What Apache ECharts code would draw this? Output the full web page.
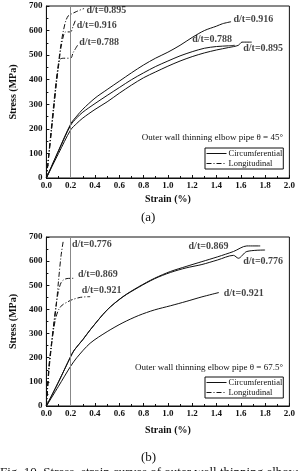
<!DOCTYPE html>
<html>
<head>
<meta charset="utf-8">
<script src="https://cdn.jsdelivr.net/npm/echarts@6/dist/echarts.min.js"></script>
<style>
html, body { margin: 0; padding: 0; background: #fff; }
#chart { width: 298px; height: 471px; }
</style>
</head>
<body>
<div id="chart"></div>
<script>
// theta = 45 deg (a)
var circ45_0916 = [[0,0],[0.1,112],[0.2,220],[0.25,252],[0.3,280],[0.4,325],[0.5,360],[0.6,394],[0.7,428],[0.8,460],[0.9,488],[1.0,512],[1.1,540],[1.2,572],[1.3,600],[1.4,618],[1.45,628],[1.52,636]];
var circ45_0788 = [[0,0],[0.1,110],[0.2,215],[0.25,245],[0.3,268],[0.4,303],[0.5,336],[0.6,368],[0.7,400],[0.8,428],[0.9,454],[1.0,476],[1.1,497],[1.2,514],[1.3,528],[1.4,535],[1.5,538],[1.55,540]];
var circ45_0895 = [[0,0],[0.1,100],[0.2,196],[0.25,222],[0.3,244],[0.4,279],[0.5,310],[0.6,345],[0.7,378],[0.8,408],[0.9,432],[1.0,455],[1.1,476],[1.2,494],[1.3,509],[1.4,521],[1.5,531],[1.58,540],[1.61,553],[1.69,553]];
var long45_0895 = [[0,0],[0.02,100],[0.04,200],[0.06,300],[0.08,395],[0.1,470],[0.12,545],[0.14,600],[0.16,640],[0.18,660],[0.2,666],[0.25,678],[0.31,690]];
var long45_0916 = [[0,0],[0.02,95],[0.04,190],[0.06,285],[0.08,380],[0.1,460],[0.12,530],[0.14,578],[0.155,594],[0.2,595],[0.22,618],[0.24,643]];
var long45_0788 = [[0,0],[0.02,90],[0.04,185],[0.06,280],[0.08,375],[0.1,455],[0.11,482],[0.13,487],[0.2,488],[0.22,510],[0.26,543]];
var labels45 = [[0.33,684,'d/t=0.895'],[0.25,619,'d/t=0.916'],[0.27,550,'d/t=0.788'],[1.54,647,'d/t=0.916'],[1.20,562,'d/t=0.788'],[1.62,526,'d/t=0.895']];

// theta = 67.5 deg (b)
var circ67_0869 = [[0,0],[0.1,100],[0.2,205],[0.23,232],[0.3,275],[0.36,315],[0.5,398],[0.63,453],[0.76,494],[0.89,529],[1.02,557],[1.15,578],[1.28,598],[1.41,618],[1.54,640],[1.65,663],[1.76,663]];
var circ67_0776 = [[0,0],[0.1,100],[0.2,205],[0.23,232],[0.3,275],[0.36,315],[0.5,398],[0.63,452],[0.76,492],[0.89,527],[1.02,553],[1.15,572],[1.28,586],[1.41,605],[1.54,624],[1.58,612],[1.65,640],[1.8,646]];
var circ67_0921 = [[0,0],[0.1,82],[0.2,165],[0.25,200],[0.36,260],[0.5,308],[0.63,345],[0.76,375],[0.89,398],[1.02,415],[1.15,433],[1.28,452],[1.42,470]];
var long67_0776 = [[0,0],[0.02,160],[0.04,250],[0.06,330],[0.08,410],[0.1,520],[0.12,620],[0.14,688]];
var long67_0869 = [[0,0],[0.02,150],[0.04,250],[0.06,340],[0.08,420],[0.1,478],[0.12,510],[0.14,522],[0.17,528],[0.23,529]];
var long67_0921 = [[0,0],[0.02,140],[0.04,240],[0.06,320],[0.08,370],[0.1,398],[0.13,418],[0.17,430],[0.21,440],[0.28,450],[0.36,453]];
var labels67 = [[0.21,671,'d/t=0.776'],[0.26,547,'d/t=0.869'],[0.29,480,'d/t=0.921'],[1.17,659,'d/t=0.869'],[1.62,597,'d/t=0.776'],[1.46,468,'d/t=0.921']];

var serif = '"Liberation Serif", "DejaVu Serif", serif';
var dashDot = [5, 2, 1, 2];

function lineSeries(name, data, gi, dashed){
    return {
        name: name,
        type: 'line',
        xAxisIndex: gi,
        yAxisIndex: gi,
        data: data,
        symbol: 'none',
        smooth: 0.3,
        color: '#111',
        lineStyle: { color: '#111', width: 1, type: dashed ? dashDot : 'solid' }
    };
}

function labelSeries(data, gi){
    return {
        name: 'labels' + gi,
        type: 'scatter',
        xAxisIndex: gi,
        yAxisIndex: gi,
        data: data,
        symbolSize: 0,
        silent: true,
        label: {
            show: true,
            position: 'right',
            distance: 0,
            formatter: function(p){ return p.value[2]; },
            fontFamily: serif,
            fontWeight: 'bold',
            fontSize: 10,
            color: '#111'
        }
    };
}

function xAxisCfg(gi, gap){
    return {
        gridIndex: gi,
        type: 'value',
        min: 0, max: 2, interval: 0.2,
        name: 'Strain (%)',
        nameLocation: 'middle',
        nameGap: gap,
        nameTextStyle: { fontFamily: serif, fontWeight: 'bold', fontSize: 10, color: '#111' },
        axisLine: { lineStyle: { color: '#111' } },
        axisTick: { inside: true, length: 3, lineStyle: { color: '#111' } },
        minorTick: { show: true, splitNumber: 2, length: 2, lineStyle: { color: '#111' } },
        splitLine: { show: false },
        axisLabel: {
            fontFamily: serif, fontWeight: 'bold', fontSize: 9, color: '#111', margin: 3,
            formatter: function(v){ return v.toFixed(1); }
        }
    };
}

function yAxisCfg(gi){
    return {
        gridIndex: gi,
        type: 'value',
        min: 0, max: 700, interval: 100,
        name: 'Stress (MPa)',
        nameLocation: 'middle',
        nameGap: 23,
        nameTextStyle: { fontFamily: serif, fontWeight: 'bold', fontSize: 10, color: '#111' },
        axisLine: { lineStyle: { color: '#111' } },
        axisTick: { inside: true, length: 3, lineStyle: { color: '#111' } },
        minorTick: { show: true, splitNumber: 2, length: 2, lineStyle: { color: '#111' } },
        splitLine: { show: false },
        axisLabel: { fontFamily: serif, fontWeight: 'bold', fontSize: 9, color: '#111', margin: 4 }
    };
}

function legendCfg(top){
    return {
        data: ['Circumferential', 'Longitudinal'],
        orient: 'vertical',
        left: 205,
        top: top,
        padding: [1, 1, 1, 1],
        itemGap: 1,
        itemWidth: 20,
        itemHeight: 8,
        borderColor: '#111',
        borderWidth: 1,
        borderRadius: 0,
        selectedMode: false,
        itemStyle: { opacity: 0 },
        lineStyle: { color: '#111', width: 1 },
        textStyle: { fontFamily: serif, fontSize: 8.5, color: '#111', padding: [0, 0, 0, -3] }
    };
}

var vline = {
    symbol: 'none', silent: true,
    label: { show: false },
    lineStyle: { color: '#888', width: 1, type: 'solid' },
    data: [{ xAxis: 0.2 }]
};

var series = [
    lineSeries('Circumferential', circ45_0916, 0, false),
    lineSeries('Circumferential', circ45_0788, 0, false),
    lineSeries('Circumferential', circ45_0895, 0, false),
    lineSeries('Longitudinal', long45_0895, 0, true),
    lineSeries('Longitudinal', long45_0916, 0, true),
    lineSeries('Longitudinal', long45_0788, 0, true),
    labelSeries(labels45, 0),
    lineSeries('Circumferential', circ67_0869, 1, false),
    lineSeries('Circumferential', circ67_0776, 1, false),
    lineSeries('Circumferential', circ67_0921, 1, false),
    lineSeries('Longitudinal', long67_0776, 1, true),
    lineSeries('Longitudinal', long67_0869, 1, true),
    lineSeries('Longitudinal', long67_0921, 1, true),
    labelSeries(labels67, 1)
];
series[0].markLine = vline;
series[7].markLine = vline;

var option = {
    backgroundColor: '#fff',
    animation: false,
    grid: [
        { left: 36, top: 6, width: 254, height: 172, show: true, borderColor: '#111', borderWidth: 1 },
        { left: 37, top: 237, width: 254, height: 169, show: true, borderColor: '#111', borderWidth: 1 }
    ],
    xAxis: [xAxisCfg(0, 16), xAxisCfg(1, 19)],
    yAxis: [yAxisCfg(0), yAxisCfg(1)],
    legend: [legendCfg(148), legendCfg(377)],
    graphic: [
        { type: 'text', right: 15, top: 133, style: { text: 'Outer wall thinning elbow pipe \u03b8 = 45\u00b0', font: '9px ' + serif, fill: '#111' } },
        { type: 'text', right: 15, top: 363, style: { text: 'Outer wall thinning elbow pipe \u03b8 = 67.5\u00b0', font: '9px ' + serif, fill: '#111' } },
        { type: 'text', left: 141, top: 211, style: { text: '(a)', font: '13px ' + serif, fill: '#111' } },
        { type: 'text', left: 141, top: 451, style: { text: '(b)', font: '13px ' + serif, fill: '#111' } },
        { type: 'text', left: 0, top: 466, style: { text: 'Fig. 10. Stress\u2013strain curves of outer wall thinning elbows', font: '13px ' + serif, fill: '#111' } }
    ],
    series: series
};

var myChart = echarts.init(document.getElementById('chart'));
myChart.setOption(option);
</script>
</body>
</html>
